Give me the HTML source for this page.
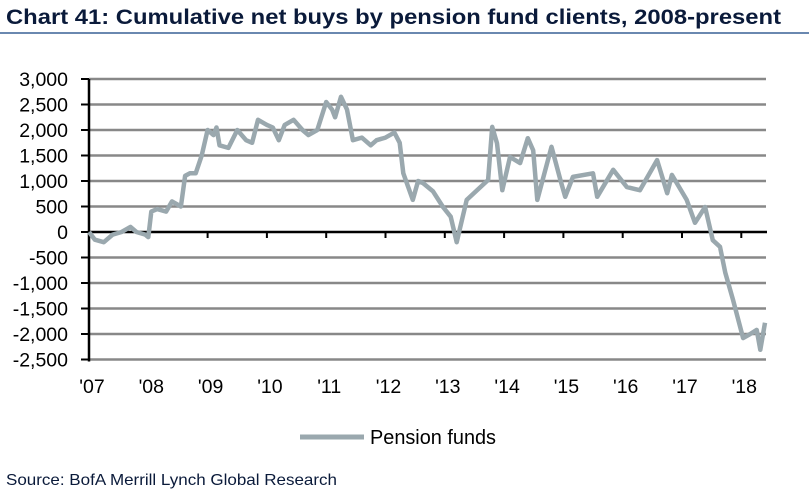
<!DOCTYPE html>
<html><head><meta charset="utf-8"><style>
body{margin:0;background:#fff;width:809px;height:495px;overflow:hidden;font-family:"Liberation Sans",sans-serif}
</style></head><body>
<svg width="809" height="495">
<text x="6" y="24" font-size="21" font-weight="bold" fill="#0a1a3a" textLength="775" lengthAdjust="spacingAndGlyphs">Chart 41: Cumulative net buys by pension fund clients, 2008-present</text>
<rect x="0" y="32" width="809" height="2" fill="#6a88b0"/>
<g id="grid"></g><g id="axes"></g>
<path id="series" fill="none" stroke="#9aa8ae" stroke-width="4.5" stroke-linejoin="round"/>
<line x1="300" y1="437" x2="364" y2="437" stroke="#9aa8ae" stroke-width="5"/>
<text x="370" y="444" font-size="20" fill="#000" textLength="126" lengthAdjust="spacingAndGlyphs">Pension funds</text>
<text x="6" y="485" font-size="16" fill="#0a1a3a" textLength="331" lengthAdjust="spacingAndGlyphs">Source:  BofA Merrill Lynch Global Research</text>
</svg>
<script>
const yTicks=[3000,2500,2000,1500,1000,500,0,-500,-1000,-1500,-2000,-2500];
const yearLabels=["'07","'08","'09","'10","'11","'12","'13","'14","'15","'16","'17","'18"];
const dates=[2007.0,2007.1,2007.25,2007.4,2007.55,2007.7,2007.8,2007.95,2008.0,2008.05,2008.15,2008.3,2008.4,2008.55,2008.62,2008.7,2008.8,2008.9,2009.0,2009.1,2009.15,2009.2,2009.35,2009.5,2009.65,2009.75,2009.85,2010.0,2010.1,2010.2,2010.3,2010.45,2010.6,2010.7,2010.85,2011.0,2011.1,2011.15,2011.25,2011.35,2011.45,2011.6,2011.75,2011.85,2012.0,2012.15,2012.24,2012.3,2012.46,2012.55,2012.63,2012.8,2012.97,2013.1,2013.2,2013.37,2013.6,2013.73,2013.8,2013.88,2013.97,2014.1,2014.27,2014.4,2014.49,2014.56,2014.8,2014.95,2015.03,2015.16,2015.5,2015.57,2015.84,2016.07,2016.29,2016.58,2016.75,2016.83,2017.08,2017.22,2017.39,2017.52,2017.64,2017.73,2017.86,2018.03,2018.15,2018.26,2018.32,2018.4];
const values=[0,-150,-200,-50,0,100,0,-50,-100,400,450,400,600,500,1100,1150,1150,1500,2000,1900,2050,1700,1650,2000,1800,1750,2200,2100,2050,1800,2100,2200,2000,1900,2000,2550,2400,2250,2650,2400,1800,1850,1700,1800,1850,1950,1750,1150,630,1000,960,800,490,300,-200,630,880,1020,2060,1740,820,1470,1350,1840,1600,630,1670,1020,690,1080,1150,690,1220,880,820,1410,760,1120,630,180,490,-160,-290,-800,-1330,-2080,-2000,-1920,-2310,-1780];
const X=t=>89+(t-2007)*59.3, Y=v=>232-v/500*25.5;
const ns="http://www.w3.org/2000/svg";
const g=document.getElementById('grid'), ax=document.getElementById('axes');
yTicks.forEach(v=>{
 if(v!==0){const l=document.createElementNS(ns,'line');l.setAttribute('x1',89);l.setAttribute('x2',766);l.setAttribute('y1',Y(v));l.setAttribute('y2',Y(v));l.setAttribute('stroke','#888');l.setAttribute('stroke-width','2.5');
 
 g.appendChild(l);}
 const t=document.createElementNS(ns,'text');t.setAttribute('x',68);t.setAttribute('y',Y(v)+7);t.setAttribute('text-anchor','end');t.setAttribute('font-size','19.5');t.textContent=v.toLocaleString('en-US');
 
 ax.appendChild(t);
 const k=document.createElementNS(ns,'line');k.setAttribute('x1',81);k.setAttribute('x2',89);k.setAttribute('y1',Y(v));k.setAttribute('y2',Y(v));k.setAttribute('stroke','#000');k.setAttribute('stroke-width','2');ax.appendChild(k);
});
function L(x1,y1,x2,y2,w){const l=document.createElementNS(ns,'line');l.setAttribute('x1',x1);l.setAttribute('x2',x2);l.setAttribute('y1',y1);l.setAttribute('y2',y2);l.setAttribute('stroke','#000');l.setAttribute('stroke-width',w);ax.appendChild(l);return l;}
const ya=L(89,Y(3000),89,Y(-2500)+2,2.5);


const xa=L(89,Y(0),767,Y(0),2.5);


yearLabels.forEach((s,i)=>{
 const x=X(2007+i); if(i>0) L(x,Y(0),x,Y(0)+6,2);
 const t=document.createElementNS(ns,'text');t.setAttribute('x',x+3);t.setAttribute('y',393);t.setAttribute('text-anchor','middle');t.setAttribute('font-size','19.5');t.textContent=s;
 
 ax.appendChild(t);
});
document.getElementById('series').setAttribute('d',dates.map((d,i)=>(i?'L':'M')+X(d).toFixed(1)+','+Y(values[i]).toFixed(1)).join(''));
</script>
</body></html>
